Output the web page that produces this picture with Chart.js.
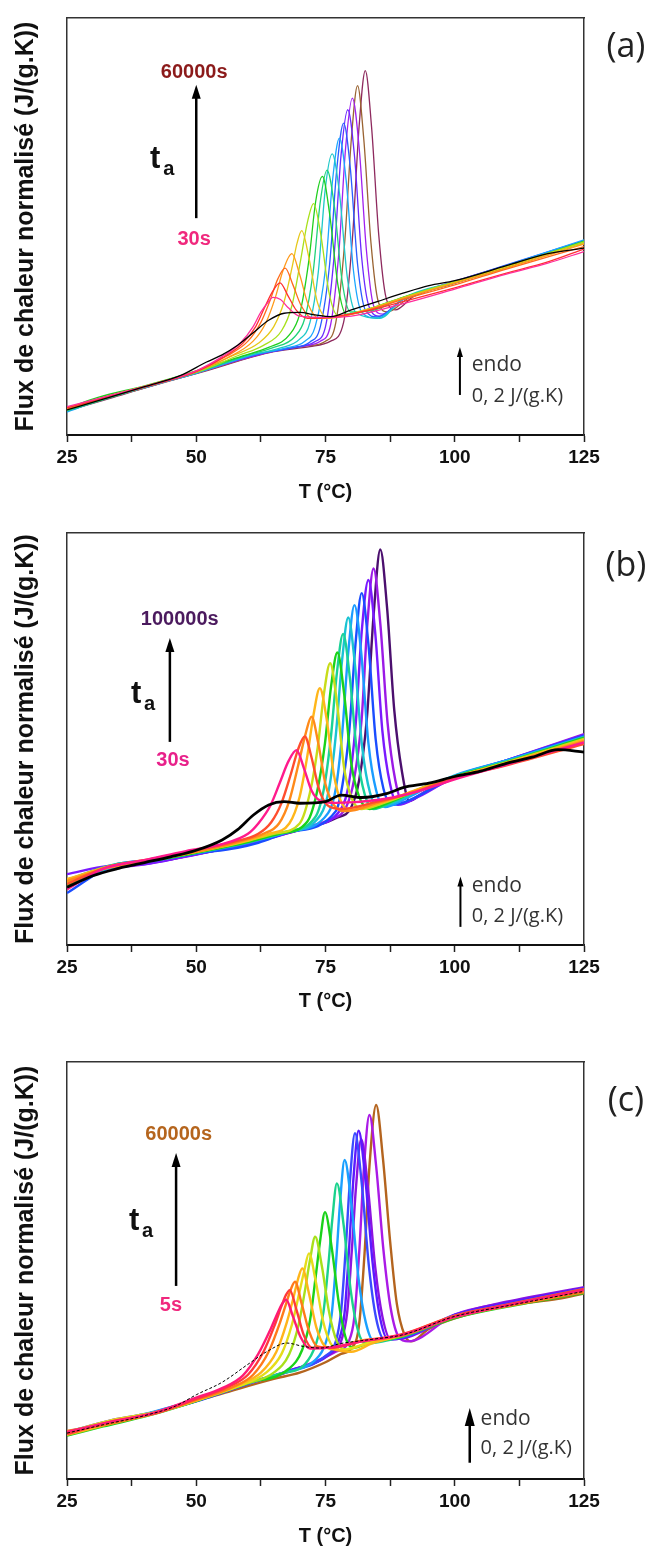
<!DOCTYPE html>
<html>
<head>
<meta charset="utf-8">
<script src="https://cdn.jsdelivr.net/npm/chart.js@4.4.1/dist/chart.umd.min.js"></script>
<style>
  body { margin: 0; background: #fff; width: 652px; height: 1551px; position: relative; overflow: hidden; }
  canvas { position: absolute; left: 0; }
</style>
</head>
<body>
<canvas id="panelA" width="652" height="515" style="top:0px"></canvas>
<canvas id="panelB" width="652" height="515" style="top:515px"></canvas>
<canvas id="panelC" width="652" height="521" style="top:1030px"></canvas>
<script>
// ---- panel (a) ----
const timesA = ['0s', '30s', '', '', '', '', '', '', '', '', '', '', '', '', '', '60000s'];
const colorsA = ['#000000', '#ff2d9b', '#ff3030', '#ff6a1a', '#ff9a1a', '#e6c81a', '#a8e01a', '#1ecf1e', '#1ed278',
  '#1ec8c8', '#1aa6ff', '#2a5cff', '#6a2aff', '#a020f0', '#9a6432', '#8e2a5e'];
const tempsA = [
  [25, 32, 40, 47, 52, 55, 58, 61, 64, 67, 70, 73, 76, 80, 85, 90, 95, 100, 110, 118, 125],
  [25, 33, 42, 50, 55, 58.5, 61, 62.5, 64, 64.8, 66.3, 67.8, 70, 75, 80, 90, 100, 110, 118, 125],
  [25, 34, 43, 50, 55, 59, 61.5, 63.2, 64.8, 66.2, 67.7, 69.3, 71.5, 76, 82, 90, 100, 110, 118, 125],
  [25, 33, 42, 50, 56, 60, 62.5, 64.2, 65.8, 67.2, 68.7, 70.3, 72.5, 77, 82, 90, 100, 110, 125],
  [25, 33, 41, 50, 56, 61, 63.5, 65.3, 66.8, 68.5, 70, 71.6, 73.8, 78, 84, 90, 100, 110, 125],
  [25, 34, 42, 50, 57, 62, 65, 67, 68.5, 69.5, 70.4, 71.8, 73.4, 75.5, 82, 90, 100, 110, 125],
  [25, 33, 42, 50, 58, 63, 66.5, 68.5, 70.2, 71.5, 72.7, 74.1, 75.7, 77.5, 83, 90, 100, 110, 125],
  [25, 31, 40, 48, 59, 64, 68, 70, 71.8, 73.1, 74.4, 75.8, 77.4, 79, 84, 90, 100, 110, 125],
  [25, 34, 43, 50, 60, 65, 69, 71, 72.6, 74, 75.3, 76.7, 78.2, 79.8, 84, 90, 100, 110, 125],
  [25, 33, 42, 50, 60, 66, 70, 72, 73.6, 75, 76.3, 77.7, 79.2, 80.8, 85.5, 90, 100, 110, 125],
  [25, 32, 41, 50, 61, 67, 71, 73, 75, 76.4, 77.7, 79, 80.4, 82, 85, 90, 100, 110, 125],
  [25, 34, 43, 50, 62, 68, 72, 74, 75.8, 77.2, 78.5, 79.8, 81.2, 82.7, 85, 90, 100, 110, 125],
  [25, 33, 42, 50, 62, 69, 73, 75, 76.6, 78, 79.3, 80.6, 82, 83.5, 85.5, 90, 100, 110, 125],
  [25, 34, 42, 50, 63, 70, 74, 76, 77.6, 78.9, 80.2, 81.5, 82.9, 84.3, 86, 90, 100, 110, 125],
  [25, 33, 41, 50, 64, 71, 75, 77, 78.7, 80, 81.2, 82.4, 83.8, 85.2, 87, 91, 100, 110, 125],
  [25, 34, 43, 50, 65, 72, 76, 78.5, 80.2, 81.5, 82.7, 83.9, 85.3, 86.7, 88.5, 92, 100, 110, 125]
];
const fluxA = [
  [6, 8.6, 11.6, 14.3, 17.5, 19.2, 21.5, 24.5, 27.5, 29.2, 29.4, 28.8, 28.4, 30, 32, 34, 35.8, 37, 40.6, 43.5, 44.8],
  [6.8, 9.4, 12.3, 15.4, 18.8, 22, 26, 29.5, 32, 33, 32.5, 30.5, 28.5, 28.2, 28.5, 31.5, 35, 38.6, 41.2, 44],
  [6.5, 9.5, 12.5, 15.2, 18.5, 22, 26, 30.5, 34.5, 36.5, 33.5, 30, 28, 28.3, 29.5, 32, 35.3, 38.8, 41.5, 44.6],
  [6.2, 9.2, 12.2, 15.3, 19, 22.5, 27, 32, 37.5, 40, 36, 31, 28, 28.3, 29.6, 32.5, 36, 39.8, 45.2],
  [6.6, 9.3, 12, 15.3, 18.5, 22.5, 27, 33, 39.5, 43.5, 38.5, 31.5, 28, 28.5, 30.2, 32.8, 36.4, 40, 45.8],
  [6.3, 9.7, 12.3, 15.2, 19, 22, 26, 32, 40, 46, 49, 42.5, 32, 28, 29.8, 32.8, 36.6, 40.3, 46],
  [6, 9.1, 12.4, 15, 19, 21.5, 25, 31, 42, 51, 55.5, 48, 34, 28.5, 30, 33, 36.8, 40.5, 46.3],
  [6.4, 9, 11.8, 14.6, 19, 21, 24, 29, 42, 56, 62, 53, 36, 29, 30.5, 33, 36.5, 40.2, 46.5],
  [5.8, 9.2, 12.6, 15, 19.2, 21, 23.5, 28, 39, 56, 63.5, 55, 37, 29.5, 29.8, 33, 36.6, 40.4, 46.2],
  [6.1, 9, 12, 15, 19, 20.8, 23, 27, 39, 59.5, 67.4, 58, 38, 29.5, 28, 32.8, 36.7, 40.4, 46.4],
  [5.5, 8.6, 11.8, 14.8, 19.2, 20.8, 22.5, 26, 40, 61.5, 71.2, 61, 39.5, 29.5, 28, 32.5, 36.5, 40.6, 46.8],
  [5.9, 9.4, 12.7, 15.1, 19.4, 20.8, 22.3, 26, 41, 64, 74.8, 64, 41, 30, 28.3, 32.6, 36.8, 40.8, 46.6],
  [6.2, 9.1, 12.2, 15.1, 19.3, 21, 22.4, 26, 42, 67, 78, 67, 42.5, 30.5, 28.5, 32.5, 36.9, 40.7, 46.5],
  [5.7, 9.3, 12, 14.9, 19.5, 21.2, 22.5, 26.5, 44, 69, 80.8, 69, 44.5, 31, 29, 32.5, 36.4, 40.5, 46.6],
  [6, 8.9, 11.6, 14.8, 19.8, 21.3, 22.5, 27, 46, 71, 83.8, 71, 46, 32, 29.5, 32.8, 36.5, 40.3, 46.2],
  [5.8, 9, 12.4, 14.7, 20, 21.2, 22.5, 27, 47, 74, 87.4, 74, 48, 33, 30, 33.2, 36.4, 40.4, 46]
];

// ---- panel (b) ----
const timesB = ['0s', '30s', '', '', '', '', '', '', '', '', '', '', '', '100000s'];
const colorsB = ['#000000', '#ff1a8c', '#ff4d2e', '#ff8a1a', '#ffb61a', '#c8dc1a', '#1ad21a', '#1ad296', '#1ac3d2',
  '#1a9cff', '#1a4dff', '#7a1aff', '#9b1ae6', '#4b0f6e'];
const tempsB = [
  [25, 30, 35, 40, 45, 50, 55, 58, 61, 64, 67, 70, 75, 78, 82, 87, 90, 95, 100, 105, 110, 115, 120, 125],
  [25, 32, 40, 48, 55, 60, 62, 64.4, 66.2, 67.8, 69.4, 70.8, 72.3, 74, 77, 85, 92, 100, 110, 125],
  [25, 33, 41, 50, 57, 62, 64.5, 66.5, 68.3, 69.7, 71, 72.3, 73.7, 75.3, 78, 85, 92, 100, 110, 125],
  [25, 32, 40, 50, 58, 63, 66, 68, 69.7, 71.1, 72.3, 73.6, 75, 76.6, 79, 85, 92, 100, 110, 125],
  [25, 34, 42, 50, 58, 64, 68, 70, 71.5, 72.7, 73.9, 75.2, 76.6, 78.1, 80, 86, 92, 100, 110, 125],
  [25, 33, 41, 50, 59, 65, 70, 72, 73.5, 74.7, 75.9, 77.2, 78.6, 80.1, 82, 87, 93, 100, 110, 125],
  [25, 32, 42, 50, 60, 66, 71.5, 73.5, 74.9, 76.1, 77.3, 78.6, 80, 81.5, 83.5, 88, 93, 100, 110, 125],
  [25, 34, 42, 50, 60, 67, 73, 74.7, 76, 77.2, 78.4, 79.7, 81.1, 82.6, 84.3, 88, 93, 100, 110, 125],
  [25, 33, 41, 50, 60, 67, 74, 75.7, 77, 78.2, 79.4, 80.7, 82.1, 83.6, 85.3, 89, 94, 100, 110, 125],
  [25, 32, 41, 50, 60, 68, 75.5, 77, 78.2, 79.4, 80.6, 81.9, 83.3, 84.8, 86.5, 90, 95, 100, 110, 125],
  [25, 34, 42, 50, 58, 62, 68, 77, 78.3, 79.6, 80.8, 82, 83.3, 84.7, 86.2, 88, 92, 100, 110, 125],
  [25, 33, 40, 48, 56, 64, 71, 78, 79.5, 80.8, 82, 83.3, 84.6, 86, 87.5, 89, 93, 100, 110, 125],
  [25, 32, 39, 47, 55, 63, 71, 76, 79, 80.5, 82, 83.1, 84.3, 85.6, 87, 88.5, 90, 94, 100, 110, 125],
  [25, 33, 41, 49, 57, 65, 72, 77, 80, 81.5, 83, 84.3, 85.6, 86.9, 88.3, 89.8, 91.2, 94, 100, 110, 125]
];
const fluxB = [
  [14, 16.8, 18.6, 20, 21.4, 23, 25.5, 28, 31.5, 34, 34.8, 34.4, 34.8, 36.4, 35.8, 36.8, 38.2, 39.3, 40.9, 42.2, 44.1, 45.6, 47.4, 46.8],
  [13.5, 18.5, 20.6, 22.8, 24.5, 27, 29.5, 34, 39.5, 44.5, 47.3, 43, 37.5, 35, 34.5, 35.2, 37, 40.2, 43.8, 49.2],
  [14.8, 19, 20.8, 23, 25, 27, 29.8, 34.5, 41.5, 47.5, 50.6, 45.5, 38, 34, 33, 34.8, 37, 40.5, 43.6, 48.8],
  [15.5, 18.4, 20.3, 22.6, 25, 27, 29.5, 35, 43.5, 51, 55.4, 49, 39, 34, 32.5, 34.5, 37.2, 40.6, 44, 49.5],
  [16, 19.3, 20.8, 22.7, 24.8, 27, 29.5, 36, 46, 56, 62.3, 55, 41.5, 34.5, 32.8, 34.6, 37.4, 40.8, 44.2, 49.8],
  [15.2, 19, 20.5, 22.6, 25, 27, 29.5, 37, 48, 61, 68.4, 59, 43, 35.5, 33, 34.8, 37.6, 40.7, 44.3, 50],
  [14.5, 18.6, 20.6, 22.4, 25, 27, 30, 38, 49, 63, 71, 61, 44, 36, 33, 35, 37.8, 40.9, 44.4, 50.3],
  [15.8, 19.5, 20.7, 22.5, 25.2, 27.4, 31, 38, 50, 66, 75.5, 65, 46.5, 36.5, 33, 34.8, 37.6, 41, 44.5, 50.2],
  [13.8, 18.8, 20.3, 22.4, 25, 27.2, 31.5, 38, 51, 69, 79.5, 68, 48, 37, 33.5, 35, 38, 41, 44.6, 50.4],
  [15, 18.2, 20.4, 22.3, 24.8, 27.5, 32, 38, 51, 71, 82.5, 71, 49, 37.5, 33.5, 35.2, 38.4, 41.2, 44.8, 50.6],
  [12.6, 19.4, 20.6, 22.2, 23.6, 24.8, 27.4, 32.5, 39, 52, 73, 85.4, 73, 50, 38, 34, 35.6, 41, 44.8, 50.8],
  [17.2, 19.2, 19.6, 21.5, 23.5, 25.8, 28.5, 33, 39, 53, 76, 88.6, 76, 52, 39, 34, 36, 40.8, 44.8, 51],
  [14.2, 18.2, 19.4, 21.2, 23.3, 25.6, 28.5, 30.5, 33.5, 40, 55, 78, 91.4, 78, 54, 40, 34.5, 37, 40.5, 44.8, 51.2],
  [15.6, 19, 20, 21.8, 23.8, 26.3, 28.6, 30.8, 33.5, 40, 55, 80, 96, 82, 57, 42, 35, 37, 40.8, 44.5, 50.5]
];

// ---- panel (c) ----
const timesC = ['0s', '5s', '', '', '', '', '', '', '', '', '', '', '', '', '60000s'];
const colorsC = ['#000000', '#ff1a75', '#ff3a3a', '#ff7a1a', '#ffb41a', '#e6dc1a', '#a8e01a', '#1ad21a', '#1ad28c',
  '#1aa0ff', '#3a4aff', '#5a1aff', '#8c14e0', '#aa1ae6', '#b4641e'];
const tempsC = [
  [25, 32, 40, 46, 50, 55, 60, 64, 67.5, 70.7, 74, 78, 84, 90, 100, 110, 125],
  [25, 33, 42, 50, 55, 59, 62, 64.4, 65.8, 66.6, 67.4, 68.7, 70.2, 72, 76, 82, 90, 100, 110, 125],
  [25, 34, 42, 50, 56, 60, 63, 65.2, 66.5, 67.3, 68.1, 69.4, 70.8, 72.4, 76, 82, 90, 100, 110, 125],
  [25, 33, 41, 50, 57, 61, 64, 66.2, 67.5, 68.3, 69.1, 70.4, 71.8, 73.4, 76, 82, 90, 100, 110, 125],
  [25, 32, 42, 50, 58, 62.5, 65.5, 67.5, 68.8, 69.7, 70.5, 71.8, 73.2, 74.8, 77, 80, 84, 90, 100, 110, 125],
  [25, 34, 42, 50, 58, 63.5, 66.5, 68.5, 69.9, 70.9, 71.8, 73.1, 74.5, 76, 78, 83, 90, 100, 110, 125],
  [25, 33, 41, 50, 59, 65, 68, 69.8, 71, 72, 73, 74.3, 75.7, 77.2, 79, 83, 90, 100, 110, 125],
  [25, 32, 41, 50, 60, 68, 70.5, 72, 73.1, 74, 74.9, 76.2, 77.6, 79, 80.6, 83, 90, 100, 110, 125],
  [25, 34, 42, 50, 60, 66, 71, 73.2, 74.6, 75.6, 76.3, 77.2, 78.5, 79.9, 81.3, 82.8, 90, 100, 110, 125],
  [25, 33, 42, 50, 60, 67, 73, 75, 76.2, 77.1, 77.8, 78.7, 80, 81.4, 82.8, 84.4, 90, 100, 110, 125],
  [25, 32, 41, 50, 60, 68, 75, 77, 78, 78.9, 79.7, 80.7, 82, 83.4, 84.8, 86.4, 90, 100, 110, 125],
  [25, 34, 42, 50, 60, 68, 75.5, 77.5, 78.7, 79.6, 80.4, 81.4, 82.7, 84.1, 85.5, 87.1, 90, 100, 110, 125],
  [25, 33, 41, 50, 60, 68, 76, 78, 79.2, 80.1, 80.9, 81.9, 83.2, 84.6, 86, 87.6, 91, 100, 110, 125],
  [25, 32, 42, 50, 60, 68, 77, 79.5, 80.6, 81.6, 82.4, 83.5, 84.8, 86.2, 87.6, 89.2, 91, 100, 110, 125],
  [25, 35, 45, 55, 65, 70, 75, 78, 80, 81.5, 82.6, 83.5, 84.8, 86.1, 87.5, 88.8, 90.3, 91.5, 95, 100, 110, 120, 125]
];
const fluxC = [
  [11, 13, 15.2, 17.5, 20.2, 23.2, 27.5, 30.8, 32.6, 31.8, 31.4, 32.5, 33.5, 34.6, 39, 41.5, 45],
  [11.3, 13.6, 16, 19.5, 21.8, 24.8, 30, 36, 40, 42, 43, 39, 34, 31.3, 31.5, 33, 34.6, 38.8, 41.6, 45.3],
  [10.8, 13.9, 15.7, 19.2, 22, 25, 30.5, 37, 41.5, 44, 45.3, 40.5, 34.5, 31.5, 31.5, 33, 34.8, 39.2, 41.8, 45.6],
  [11.5, 13.2, 15.5, 19, 22, 25, 30.5, 37.5, 42.5, 45.5, 47.3, 42, 35.5, 31.8, 31.5, 33.2, 34.5, 39, 41.4, 44.8],
  [10.6, 12.8, 15.8, 18.8, 22.5, 25.5, 30.5, 37.5, 43.5, 48, 50.5, 44.5, 36.5, 32, 31, 30.5, 32.5, 34.6, 39, 41.6, 45],
  [11.2, 14.2, 16, 18.9, 22.2, 25.5, 30, 37, 44.5, 50, 54.1, 47.5, 38, 32.5, 31, 32.5, 34.6, 39.1, 41.7, 45.4],
  [10.9, 13.5, 15.4, 18.8, 22.6, 25.5, 30, 37, 45, 52.5, 58.1, 51, 40, 33, 31, 32.5, 34.4, 38.8, 41.5, 45.2],
  [10.4, 12.6, 15.3, 18.7, 23, 26.5, 31, 38, 48.5, 57.5, 64, 55.5, 42, 33.5, 31.5, 32.5, 34.3, 38.6, 41.3, 44.6],
  [11, 14, 15.9, 18.9, 23, 25.2, 27.5, 32.5, 40, 52, 62, 70.9, 61, 45, 35.5, 32.5, 34.2, 39, 41.6, 45.3],
  [11.4, 13.6, 16.2, 19, 23, 25.5, 28.5, 32.5, 39.5, 53, 66, 76.5, 66, 48, 37.5, 33, 34.3, 39.2, 41.8, 45.6],
  [10.8, 12.9, 15.6, 18.6, 22.8, 25.8, 29.5, 33, 40, 55, 71, 82.9, 71, 51, 38.5, 33.5, 34, 39, 41.6, 45.2],
  [11.2, 14.2, 16, 18.8, 23, 26, 29.8, 33, 40, 56, 72, 83.5, 72, 52, 39, 33.5, 33.8, 39.4, 42.2, 45.8],
  [10.5, 13.4, 15.5, 18.7, 22.8, 26, 30, 33, 40, 55, 70, 81.5, 70, 51, 39, 33.5, 34, 39.3, 42.5, 46],
  [11, 12.9, 16.1, 19, 22.9, 25.8, 30.5, 33, 39, 56, 74, 87.3, 75, 55, 41, 34, 33, 39.4, 42.3, 45.7],
  [10.8, 14, 17, 20.5, 24, 25.5, 28, 30, 31.3, 37, 55, 75, 89.7, 77, 57, 42, 34.5, 33, 36, 38.5, 41.5, 43.2, 44.5]
];

const boldFont = '"Liberation Sans", Arial, sans-serif';
const lightFont = '"Open Sans", "DejaVu Sans", sans-serif';

// draws the labels, t_a arrow and the endo scale bar, placed in data units
const notesPlugin = {
  id: 'panelNotes',
  afterDraw(chart, args, opts) {
    const ctx = chart.ctx;
    const xs = chart.scales.x, ys = chart.scales.y;
    ctx.save();
    for (const n of opts.items) {
      if (n.type === 'text') {
        ctx.font = n.font;
        ctx.fillStyle = n.color || '#222';
        ctx.textAlign = n.align || 'center';
        ctx.textBaseline = n.baseline || 'middle';
        ctx.fillText(n.text, xs.getPixelForValue(n.T), ys.getPixelForValue(n.v));
      } else if (n.type === 'arrow') {
        const x = xs.getPixelForValue(n.T);
        const y0 = ys.getPixelForValue(n.v0);
        const y1 = ys.getPixelForValue(n.v1);
        ctx.strokeStyle = '#000';
        ctx.fillStyle = '#000';
        ctx.lineWidth = n.lw;
        ctx.beginPath();
        ctx.moveTo(x, y0);
        ctx.lineTo(x, y1 + n.hl * 0.7);
        ctx.stroke();
        ctx.beginPath();
        ctx.moveTo(x, y1);
        ctx.lineTo(x - n.hw / 2, y1 + n.hl);
        ctx.lineTo(x + n.hw / 2, y1 + n.hl);
        ctx.closePath();
        ctx.fill();
      }
    }
    ctx.restore();
  }
};

function makePanel(id, temps, flux, colors, times, p) {
  const datasets = temps.map((t, i) => ({
    label: times[i] || '',
    data: t.map((x, j) => ({ x: x, y: flux[i][j] })),
    borderColor: colors[i],
    borderWidth: i === 0 ? p.blackWidth : p.lineWidth,
    borderDash: i === 0 ? p.blackDash : [],
    pointRadius: 0,
    fill: false,
    cubicInterpolationMode: 'monotone'
  }));
  const frame = { color: '#333', width: 1.5 };
  return new Chart(document.getElementById(id), {
    type: 'line',
    data: { datasets: datasets },
    options: {
      responsive: false,
      animation: false,
      devicePixelRatio: 1,
      layout: { padding: 0 },
      plugins: {
        legend: { display: false },
        tooltip: { enabled: false },
        panelNotes: { items: p.notes }
      },
      scales: {
        x: {
          type: 'linear', position: 'bottom', min: 25, max: 125,
          afterFit: s => { s.height = p.bottomH; },
          ticks: {
            stepSize: 12.5, autoSkip: false, maxRotation: 0, padding: 4, color: '#111',
            font: { family: boldFont, size: 19, weight: 'bold' },
            callback: v => (v % 25 === 0 ? String(v) : '')
          },
          grid: { drawOnChartArea: false, drawTicks: true, tickLength: 7, tickWidth: 1.5, tickColor: '#222' },
          border: { color: '#111', width: 2 },
          title: {
            display: true, text: 'T (°C)', color: '#111',
            font: { family: boldFont, size: 20, weight: 'bold' },
            padding: { top: 0, bottom: p.titlePad }
          }
        },
        x2: {
          type: 'linear', position: 'top', min: 25, max: 125,
          afterFit: s => { s.height = p.topH; },
          ticks: { display: false }, grid: { display: false }, border: frame
        },
        y: {
          type: 'linear', position: 'left', min: 0, max: 100,
          afterFit: s => { s.width = 67; },
          ticks: { display: false }, grid: { display: false }, border: frame,
          title: {
            display: true, text: 'Flux de chaleur normalisé (J/(g.K))', color: '#111',
            font: { family: boldFont, size: 25, weight: 'bold' },
            padding: { top: 11, bottom: 0 }
          }
        },
        y2: {
          type: 'linear', position: 'right', min: 0, max: 100,
          afterFit: s => { s.width = 68; },
          ticks: { display: false }, grid: { display: false }, border: frame
        }
      }
    },
    plugins: [notesPlugin]
  });
}

function tNotes(tx, tv, ax, av) {
  return [
    { type: 'text', text: 't', T: tx, v: tv, font: 'bold 31px ' + boldFont, color: '#111', align: 'left', baseline: 'alphabetic' },
    { type: 'text', text: 'a', T: ax, v: av, font: 'bold 20px ' + boldFont, color: '#111', align: 'left', baseline: 'alphabetic' }
  ];
}

makePanel('panelA', tempsA, fluxA, colorsA, timesA, {
  topH: 18, bottomH: 80, titlePad: 11, lineWidth: 1.3, blackWidth: 1.3, blackDash: [],
  notes: [
    { type: 'text', text: '(a)', T: 133.1, v: 93, font: '34px ' + lightFont, color: '#222' },
    { type: 'text', text: '60000s', T: 49.6, v: 87, font: 'bold 20px ' + boldFont, color: '#8b1a1a' },
    { type: 'arrow', T: 50, v0: 52, v1: 84, lw: 2.5, hw: 9, hl: 14 },
    { type: 'text', text: '30s', T: 49.6, v: 47, font: 'bold 20px ' + boldFont, color: '#f0287d' },
    ...tNotes(41.05, 64, 43.6, 62.4),
    { type: 'arrow', T: 101, v0: 9.6, v1: 21.1, lw: 2, hw: 6, hl: 10 },
    { type: 'text', text: 'endo', T: 103.3, v: 16.8, font: '21px ' + lightFont, color: '#333', align: 'left' },
    { type: 'text', text: '0, 2 J/(g.K)', T: 103.3, v: 9.2, font: '20px ' + lightFont, color: '#333', align: 'left' }
  ]
});

makePanel('panelB', tempsB, fluxB, colorsB, timesB, {
  topH: 18, bottomH: 85, titlePad: 17, lineWidth: 2.4, blackWidth: 2.8, blackDash: [],
  notes: [
    { type: 'text', text: '(b)', T: 133.1, v: 92, font: '34px ' + lightFont, color: '#222' },
    { type: 'text', text: '100000s', T: 46.8, v: 79.1, font: 'bold 20px ' + boldFont, color: '#4b1a5e' },
    { type: 'arrow', T: 44.9, v0: 49.3, v1: 74.5, lw: 2.5, hw: 9, hl: 14 },
    { type: 'text', text: '30s', T: 45.5, v: 44.9, font: 'bold 20px ' + boldFont, color: '#e8208a' },
    ...tNotes(37.4, 58.7, 39.9, 57),
    { type: 'arrow', T: 101.1, v0: 4.4, v1: 16.6, lw: 2, hw: 6, hl: 10 },
    { type: 'text', text: 'endo', T: 103.3, v: 14.3, font: '21px ' + lightFont, color: '#333', align: 'left' },
    { type: 'text', text: '0, 2 J/(g.K)', T: 103.3, v: 6.9, font: '20px ' + lightFont, color: '#333', align: 'left' }
  ]
});

makePanel('panelC', tempsC, fluxC, colorsC, timesC, {
  topH: 32, bottomH: 72, titlePad: 3, lineWidth: 2.4, blackWidth: 1, blackDash: [3, 2],
  notes: [
    { type: 'text', text: '(c)', T: 133.1, v: 90.6, font: '34px ' + lightFont, color: '#222' },
    { type: 'text', text: '60000s', T: 46.6, v: 82.6, font: 'bold 20px ' + boldFont, color: '#b5651d' },
    { type: 'arrow', T: 46.1, v0: 46.3, v1: 78.2, lw: 2.5, hw: 9, hl: 14 },
    { type: 'text', text: '5s', T: 45.1, v: 41.5, font: 'bold 20px ' + boldFont, color: '#f0287d' },
    ...tNotes(37, 59.7, 39.5, 58),
    { type: 'arrow', T: 102.9, v0: 3.9, v1: 17, lw: 2.5, hw: 10, hl: 18 },
    { type: 'text', text: 'endo', T: 105, v: 14.4, font: '21px ' + lightFont, color: '#333', align: 'left' },
    { type: 'text', text: '0, 2 J/(g.K)', T: 105, v: 7.4, font: '20px ' + lightFont, color: '#333', align: 'left' }
  ]
});
</script>
</body>
</html>
